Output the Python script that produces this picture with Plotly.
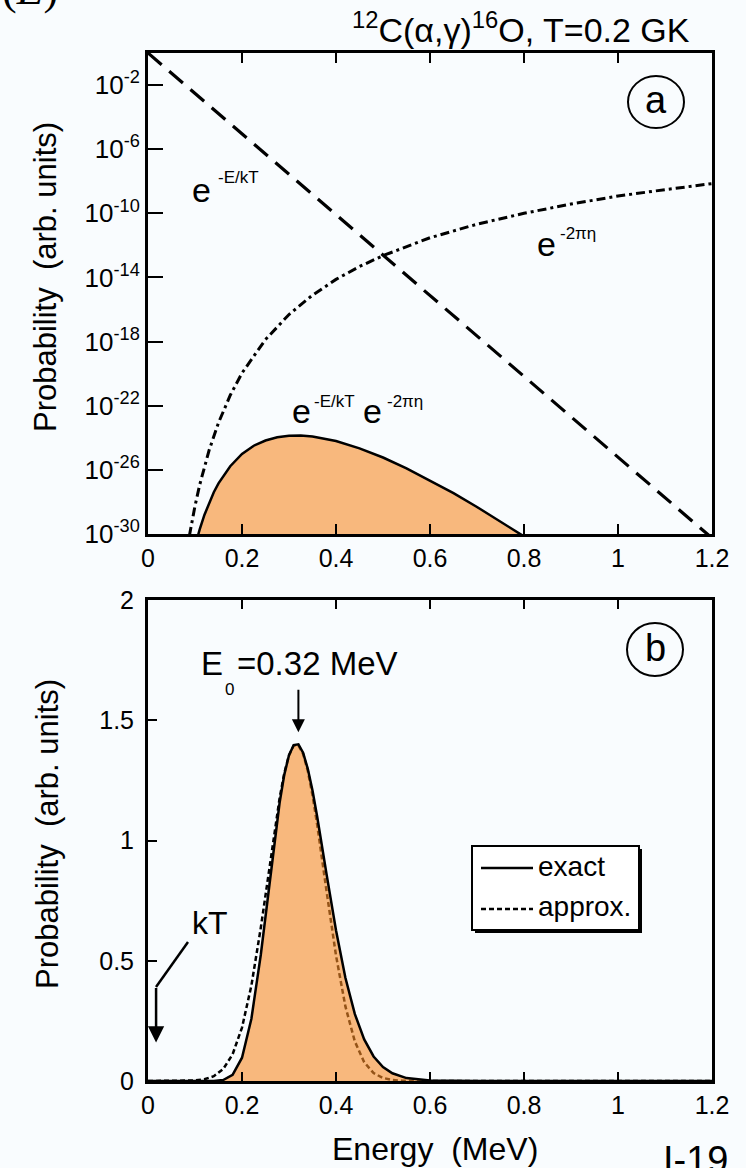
import plotly.graph_objects as go

FONT = "Liberation Sans, Arial, Helvetica, sans-serif"
SERIF = "Liberation Serif, DejaVu Serif, serif"
BG = "#F9FCFE"
FILL = "rgba(247,138,38,0.6)"

# ---- panel (a): probability factors vs energy (MeV), log scale ----
energy_boltz = [0.0, 0.2, 0.4, 0.6, 0.8, 1.0, 1.2]
p_boltz = [1.0, 9.1e-6, 8.3e-11, 7.6e-16, 6.9e-21, 6.2e-26, 5.6e-31]

energy_gamow = [0.088, 0.09, 0.095, 0.1, 0.11, 0.12, 0.13, 0.15, 0.175, 0.2, 0.25,
                0.3, 0.35, 0.4, 0.45, 0.5, 0.6, 0.7, 0.8, 0.9, 1.0, 1.1, 1.2]
p_gamow = [7.6e-31, 1.7e-30, 1.05e-29, 5.6e-29, 1.17e-27, 1.6e-26, 1.66e-25, 8.7e-24,
           4.5e-22, 1.1e-20, 1.35e-18, 4.9e-17, 7.9e-16, 7.6e-15, 4.8e-14, 2.3e-13,
           3.0e-12, 2.1e-11, 1.0e-10, 3.8e-10, 1.2e-9, 3.0e-9, 7.1e-9]

energy_prod = [0.1, 0.105, 0.11, 0.12, 0.13, 0.14, 0.15, 0.175, 0.2, 0.225, 0.25,
               0.275, 0.3, 0.325, 0.35, 0.4, 0.45, 0.5, 0.55, 0.6, 0.65, 0.7, 0.75,
               0.79, 0.8]
p_prod = [1.7e-31, 6.0e-31, 1.95e-30, 1.55e-29, 8.9e-29, 4.0e-28, 1.45e-27, 1.7e-26,
          9.8e-26, 3.2e-25, 6.8e-25, 1.07e-24, 1.35e-24, 1.38e-24, 1.2e-24, 6.3e-25,
          2.2e-25, 5.9e-26, 1.23e-26, 2.2e-27, 3.5e-28, 4.8e-29, 6.0e-30, 1.1e-30,
          7.1e-31]

# ---- panel (b): Gamow peak, linear scale ----
energy_exact = [0.0, 0.1, 0.14, 0.16, 0.18, 0.2, 0.22, 0.24, 0.26, 0.28, 0.29, 0.3,
                0.31, 0.32, 0.33, 0.34, 0.35, 0.36, 0.38, 0.4, 0.42, 0.44, 0.46, 0.48,
                0.5, 0.52, 0.55, 0.6, 0.7, 1.2]
p_exact = [0.0, 0.0, 0.0004, 0.0043, 0.026, 0.097, 0.259, 0.525, 0.851, 1.157, 1.274,
           1.355, 1.397, 1.400, 1.365, 1.298, 1.208, 1.099, 0.859, 0.627, 0.429, 0.279,
           0.173, 0.102, 0.058, 0.032, 0.012, 0.002, 0.0, 0.0]

energy_approx = [0.0, 0.08, 0.1, 0.12, 0.14, 0.16, 0.18, 0.2, 0.22, 0.24, 0.26, 0.28,
                 0.29, 0.3, 0.31, 0.32, 0.33, 0.34, 0.35, 0.36, 0.38, 0.4, 0.42, 0.44,
                 0.46, 0.48, 0.5, 0.52, 0.54, 0.58, 1.2]
p_approx = [0.0, 0.0007, 0.0023, 0.0072, 0.0199, 0.0497, 0.111, 0.222, 0.397, 0.637,
            0.915, 1.176, 1.28, 1.354, 1.394, 1.396, 1.36, 1.289, 1.188, 1.065, 0.788,
            0.522, 0.310, 0.165, 0.078, 0.033, 0.0127, 0.0043, 0.0013, 0.0, 0.0]

x_ticks = [0, 0.2, 0.4, 0.6, 0.8, 1.0, 1.2]
x_ticktext = ["0", "0.2", "0.4", "0.6", "0.8", "1", "1.2"]
log_ticks = [1e-2, 1e-6, 1e-10, 1e-14, 1e-18, 1e-22, 1e-26, 1e-30]
log_ticktext = ["10<sup>-2</sup>", "10<sup>-6</sup>", "10<sup>-10</sup>", "10<sup>-14</sup>",
                "10<sup>-18</sup>", "10<sup>-22</sup>", "10<sup>-26</sup>", "10<sup>-30</sup>"]
lin_ticks = [0, 0.5, 1, 1.5, 2]
lin_ticktext = ["0", "0.5", "1", "1.5", "2"]

E0 = 0.32      # Gamow peak energy (MeV)
KT = 0.0172    # kT at T = 0.2 GK (MeV)

# ---- page geometry (pixels) ----
W, H = 746, 1168
ML, MR, MT, MB = 148, 34, 53, 87
PW, PH = W - ML - MR, H - MT - MB


def fx(px):
    return (px - ML) / PW


def fy(py):
    return (H - MB - py) / PH


fig = go.Figure()

fig.add_trace(go.Scatter(x=energy_boltz, y=p_boltz, mode="lines", xaxis="x", yaxis="y",
                         line=dict(color="black", width=3.2, dash="18px,10px"),
                         name="exp(-E/kT)", showlegend=False))
fig.add_trace(go.Scatter(x=energy_gamow, y=p_gamow, mode="lines", xaxis="x", yaxis="y",
                         line=dict(color="black", width=3, dash="9px,4px,3px,4px"),
                         name="exp(-2πη)", showlegend=False))
fig.add_trace(go.Scatter(x=energy_prod, y=p_prod, mode="lines", xaxis="x", yaxis="y",
                         fill="toself", fillcolor=FILL,
                         line=dict(color="black", width=2.5),
                         name="product", showlegend=False))

fig.add_trace(go.Scatter(x=energy_approx, y=p_approx, mode="lines", xaxis="x2", yaxis="y2",
                         line=dict(color="black", width=2.5, dash="5px,3px"),
                         name="approx.", showlegend=False))
fig.add_trace(go.Scatter(x=energy_exact, y=p_exact, mode="lines", xaxis="x2", yaxis="y2",
                         fill="tozeroy", fillcolor=FILL,
                         line=dict(color="black", width=2.5),
                         name="exact", showlegend=False))

axis_common = dict(showline=True, linecolor="black", linewidth=3, ticks="inside",
                   tickcolor="black", tickwidth=2, showgrid=False, zeroline=False,
                   tickfont=dict(family=FONT, size=25, color="black"))

top_lo, top_hi = fy(534), 1.0
bot_lo, bot_hi = 0.0, fy(600)

fig.update_layout(
    width=W, height=H, autosize=False,
    margin=dict(l=ML, r=MR, t=MT, b=MB, pad=0),
    paper_bgcolor=BG, plot_bgcolor=BG,
    showlegend=False,
    xaxis=dict(axis_common, domain=[0, 1], anchor="y", range=[0, 1.2],
               tickvals=x_ticks, ticktext=x_ticktext, mirror="ticks", ticklen=10),
    yaxis=dict(axis_common, domain=[top_lo, top_hi], anchor="x", type="log",
               range=[-30, 0], tickvals=log_ticks, ticktext=log_ticktext,
               mirror=True, ticklen=15, tickfont=dict(family=FONT, size=26, color="black")),
    xaxis2=dict(axis_common, domain=[0, 1], anchor="y2", range=[0, 1.2],
                tickvals=x_ticks, ticktext=x_ticktext, mirror="ticks", ticklen=9),
    yaxis2=dict(axis_common, domain=[bot_lo, bot_hi], anchor="x2", range=[0, 2],
                tickvals=lin_ticks, ticktext=lin_ticktext, mirror=True, ticklen=9,
                ticklabelstandoff=6),
)


def note(text, px, py, size, xanchor="center", yanchor="middle", family=FONT, **kw):
    fig.add_annotation(text=text, x=fx(px), y=fy(py), xref="paper", yref="paper",
                       xanchor=xanchor, yanchor=yanchor, showarrow=False,
                       font=dict(family=family, size=size, color="black"), **kw)


# header texts
note("(<i>E</i>)", 0, -10, 44, xanchor="left", family=SERIF)
note("<sup>12</sup>C(α,γ)<sup>16</sup>O, T=0.2 GK", 692, 27, 34, xanchor="right")

# axis titles
note("Probability\u00a0 (arb. units)", 45, 277, 31, textangle=-90)
note("Probability\u00a0 (arb. units)", 47, 834, 31, textangle=-90)
note("Energy\u00a0 (MeV)", 435, 1149, 32)
note("I-19", 695, 1160, 38)

# factor labels, panel (a)
note("e", 201, 190, 34)
note("-E/kT", 216, 177, 17, xanchor="left")
note("e", 546, 244, 34)
note("-2πη", 558, 233, 17, xanchor="left")
note("e", 301, 411, 34)
note("-E/kT", 312, 401, 17, xanchor="left")
note("e", 372, 411, 34)
note("-2πη", 385, 401, 17, xanchor="left")

# panel markers
fig.add_shape(type="circle", xref="paper", yref="paper", x0=fx(628), x1=fx(684),
              y0=fy(128), y1=fy(76), line=dict(color="black", width=2))
note("a", 656, 100, 38)
fig.add_shape(type="circle", xref="paper", yref="paper", x0=fx(627), x1=fx(683),
              y0=fy(676), y1=fy(623), line=dict(color="black", width=2))
note("b", 655, 648, 38)

# Gamow peak label and arrow
note("E", 212, 663, 33)
note("0", 229, 689, 17)
note("=0.32 MeV", 235, 663, 33, xanchor="left")
fig.add_annotation(x=E0, y=1.45, xref="x2", yref="y2", text="", showarrow=True,
                   ax=0, ay=-44, arrowhead=2, arrowsize=1.3, arrowwidth=2,
                   arrowcolor="black")

# kT label and bent arrow
note("kT", 210, 923, 32)
fig.add_shape(type="line", xref="paper", yref="paper", x0=fx(188), y0=fy(942),
              x1=fx(156), y1=fy(987), line=dict(color="black", width=2.5))
fig.add_annotation(x=KT, y=0.16, xref="x2", yref="y2", text="", showarrow=True,
                   ax=0, ay=-56, arrowhead=2, arrowsize=1.3, arrowwidth=2.5,
                   arrowcolor="black")

# legend box with drop shadow
fig.add_shape(type="rect", xref="paper", yref="paper", x0=fx(475), x1=fx(642),
              y0=fy(933), y1=fy(849), fillcolor="black", line=dict(width=0))
fig.add_shape(type="rect", xref="paper", yref="paper", x0=fx(472), x1=fx(639),
              y0=fy(930), y1=fy(846), fillcolor="white", line=dict(color="black", width=2))
fig.add_shape(type="line", xref="paper", yref="paper", x0=fx(481), x1=fx(533),
              y0=fy(868), y1=fy(868), line=dict(color="black", width=2.5))
fig.add_shape(type="line", xref="paper", yref="paper", x0=fx(481), x1=fx(533),
              y0=fy(909), y1=fy(909), line=dict(color="black", width=2.5, dash="5px,3px"))
note("exact", 536, 866, 28, xanchor="left")
note("approx.", 536, 907, 28, xanchor="left")

fig.write_html("out.html", config={"displayModeBar": False})
